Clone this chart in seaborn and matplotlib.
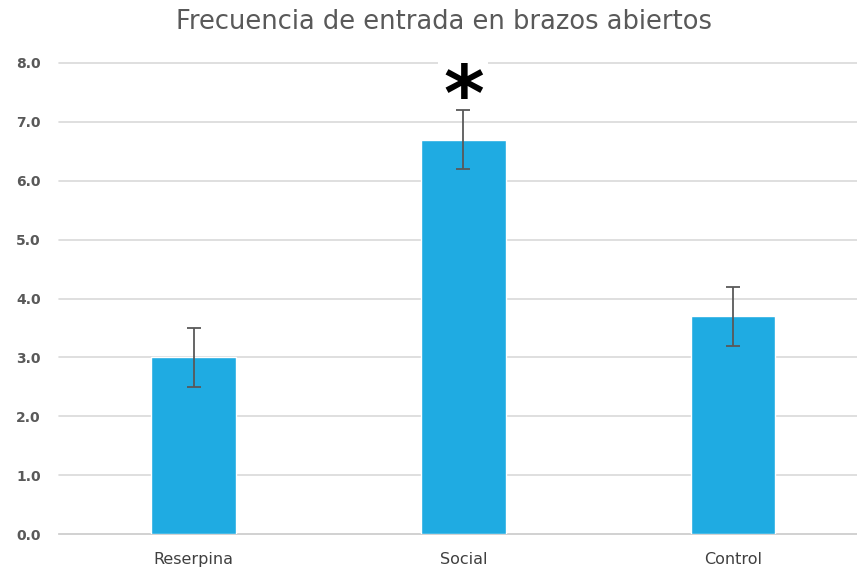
import matplotlib
matplotlib.use("Agg")
import matplotlib.pyplot as plt
from matplotlib.patches import Rectangle
import seaborn as sns
import pandas as pd

grupos = ["Reserpina", "Social", "Control"]
frecuencia = [3.0, 6.7, 3.7]
error = [0.5, 0.5, 0.5]
yticks = [0.0, 1.0, 2.0, 3.0, 4.0, 5.0, 6.0, 7.0, 8.0]

sns.set_theme(style="white")
plt.rcParams["font.family"] = ["DejaVu Sans"]

df = pd.DataFrame({"grupo": grupos, "frecuencia": frecuencia})

fig = plt.figure(figsize=(8.57, 5.69), dpi=100)
ax = fig.add_axes([59 / 857, 1 - 534 / 569, (857 - 59) / 857, (534 - 63) / 569])

sns.barplot(data=df, x="grupo", y="frecuencia", color="#1FABE2", saturation=1,
            width=0.315, ax=ax, zorder=3)
ax.errorbar(range(len(grupos)), frecuencia, yerr=error, fmt="none",
            ecolor="#595959", elinewidth=1.3, capsize=5, capthick=1.3, zorder=4)

ax.set_xlim(-0.5, 2.46)
ax.set_ylim(0, 8.0)
ax.set_yticks(yticks)
ax.set_yticklabels([f"{v:.1f}" for v in yticks], color="#595959",
                   fontsize=10, fontweight="bold")
ax.tick_params(axis="x", colors="#404040", labelsize=11.5, length=0, pad=13)
ax.tick_params(axis="y", length=0, pad=13)
ax.set_xlabel("")
ax.set_ylabel("")
ax.yaxis.grid(True, color="#D9D9D9", linewidth=1.2, zorder=0)
ax.set_axisbelow(True)
for line in ax.get_ygridlines():
    line.set_clip_on(False)
for s in ["top", "right", "left"]:
    ax.spines[s].set_visible(False)
ax.spines["bottom"].set_color("#D0D0D0")
ax.spines["bottom"].set_linewidth(1.2)

# white backing behind the significance mark, interrupting the top gridline
ax.add_patch(Rectangle((0.907, 7.9), 0.186, 0.2, facecolor="white", edgecolor="none",
                       zorder=2, clip_on=False))
ax.text(1, 7.39, "*", ha="center", va="center", fontsize=56, fontweight="bold",
        color="black", zorder=5)

fig.text(444 / 857, 1 - 22 / 569, "Frecuencia de entrada en brazos abiertos",
         ha="center", va="center", fontsize=18.5, color="#595959")

fig.savefig("out.png", dpi=100)
